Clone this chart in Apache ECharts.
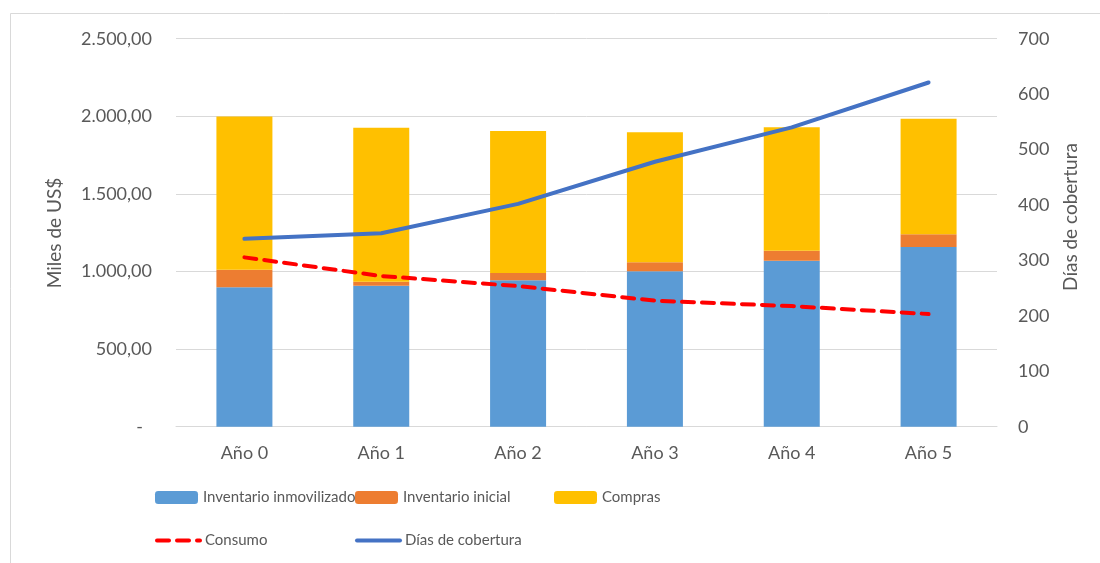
<!DOCTYPE html>
<html>
<head>
<meta charset="utf-8">
<script src="https://cdn.jsdelivr.net/npm/echarts@6/dist/echarts.min.js"></script>
<style>
  html, body { margin: 0; padding: 0; background: #fff; }
  #chart { width: 1100px; height: 563px; }
</style>
</head>
<body>
<div id="chart"></div>
<script>
// Categories and series values (miles de US$ / días)
const categories = ['Año 0', 'Año 1', 'Año 2', 'Año 3', 'Año 4', 'Año 5'];
const inventarioInmovilizado = [898, 908, 943, 1001, 1070, 1158];
const inventarioInicial = [114, 26, 47, 58, 64, 82];
const compras = [986, 992, 915, 838, 795, 745];
const consumo = [1091, 971, 906, 812, 777, 726];
const diasCobertura = [339, 349, 402, 478, 540, 621];

const FONT = 'Lato';
const TXT = '#595959';
const TICK_SIZE = 18;

function fmtMiles(v) {
  if (v === 0) return '{d|-}';
  const parts = v.toFixed(2).split('.');
  const ent = parts[0].replace(/\B(?=(\d{3})+(?!\d))/g, '.');
  return ent + ',' + parts[1];
}

const chart = echarts.init(document.getElementById('chart'));

const legendBase = {
  itemWidth: 43,
  itemHeight: 13,
  itemGap: 0,
  padding: 0,
  textStyle: { color: TXT, fontSize: 15, fontFamily: FONT },
  selectedMode: false
};
// line legend entries: show only the stroke, hide the marker
const lineLegend = Object.assign({}, legendBase, {
  itemStyle: { color: 'rgba(0,0,0,0)', borderWidth: 0 },
  lineStyle: { width: 4 }
});

chart.setOption({
  animation: false,
  backgroundColor: '#fff',
  textStyle: { fontFamily: FONT },
  grid: { left: 176, right: 103, top: 38.7, bottom: 136.3, containLabel: false },
  graphic: [
    {
      type: 'rect', silent: true, z: -10,
      shape: { x: 10.5, y: 13.5, width: 1200, height: 700 },
      style: { fill: 'none', stroke: '#D9D9D9', lineWidth: 1 }
    },
    {
      type: 'text', silent: true,
      x: 55, y: 233, rotation: Math.PI / 2,
      style: { text: 'Miles de US$', fill: TXT, font: '19px ' + FONT, align: 'center', verticalAlign: 'middle' }
    },
    {
      type: 'text', silent: true,
      x: 1071, y: 217, rotation: Math.PI / 2,
      style: { text: 'Días de cobertura', fill: TXT, font: '19px ' + FONT, align: 'center', verticalAlign: 'middle' }
    }
  ],
  legend: [
    Object.assign({}, legendBase, { left: 155, top: 490, data: ['Inventario inmovilizado'] }),
    Object.assign({}, legendBase, { left: 355, top: 490, data: ['Inventario inicial'] }),
    Object.assign({}, legendBase, { left: 554, top: 490, data: ['Compras'] }),
    Object.assign({}, lineLegend, { left: 155, top: 533, data: ['Consumo'] }),
    Object.assign({}, lineLegend, { left: 355, top: 533, data: ['Días de cobertura'] })
  ],
  xAxis: {
    type: 'category',
    data: categories,
    axisLine: { show: true, lineStyle: { color: '#D9D9D9', width: 1 } },
    axisTick: { show: false },
    axisLabel: { color: TXT, fontSize: TICK_SIZE, fontFamily: FONT, margin: 17 }
  },
  yAxis: [
    {
      type: 'value', min: 0, max: 2500, interval: 500,
      axisLine: { show: false }, axisTick: { show: false },
      splitLine: { lineStyle: { color: '#D9D9D9', width: 1 } },
      axisLabel: {
        color: TXT, fontSize: TICK_SIZE, fontFamily: FONT, margin: 24,
        formatter: fmtMiles,
        rich: { d: { color: TXT, fontSize: TICK_SIZE, fontFamily: FONT, padding: [0, 9, 0, 0] } }
      }
    },
    {
      type: 'value', min: 0, max: 700, interval: 100,
      axisLine: { show: false }, axisTick: { show: false },
      splitLine: { show: false },
      axisLabel: { color: TXT, fontSize: TICK_SIZE, fontFamily: FONT, margin: 21 }
    }
  ],
  series: [
    {
      name: 'Inventario inmovilizado', type: 'bar', stack: 'inv', barWidth: 56,
      data: inventarioInmovilizado, itemStyle: { color: '#5B9BD5' }
    },
    {
      name: 'Inventario inicial', type: 'bar', stack: 'inv', barWidth: 56,
      data: inventarioInicial, itemStyle: { color: '#ED7D31' }
    },
    {
      name: 'Compras', type: 'bar', stack: 'inv', barWidth: 56,
      data: compras, itemStyle: { color: '#FFC000' }
    },
    {
      name: 'Consumo', type: 'line', yAxisIndex: 0, data: consumo,
      symbol: 'none', z: 5,
      lineStyle: { color: '#FF0000', width: 4, type: [12, 8], cap: 'round' },
      itemStyle: { color: '#FF0000' }
    },
    {
      name: 'Días de cobertura', type: 'line', yAxisIndex: 1, data: diasCobertura,
      symbol: 'none', z: 5,
      lineStyle: { color: '#4472C4', width: 4, cap: 'round', join: 'round' },
      itemStyle: { color: '#4472C4' }
    }
  ]
});
</script>
</body>
</html>
